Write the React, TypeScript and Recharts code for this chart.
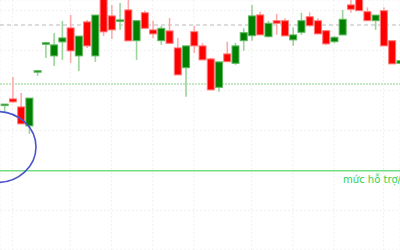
import React from 'react';
import { ComposedChart, Bar, XAxis, YAxis, CartesianGrid, ReferenceLine, ReferenceDot } from 'recharts';

// candle index (trading sessions)
const sessions = [0,1,2,3,4,5,6,7,8,9,10,11,12,13,14,15,16,17,18,19,20,21,22,23,24,25,26,27,28,29,30,31,32,33,34,35,36,37,38,39,40,41,42,43,44,45,46,47,48];
const opens = [72.9,75.9,71.9,62.4,89.6,103.2,97.4,104.4,111.4,97.4,114.4,97.4,127.9,117.4,114.9,120.4,105,119,110.4,105,109.9,101.4,91.5,109.5,102.4,95.9,81.7,98.4,93.7,105,107.5,117.9,107,115,115,105.4,109.2,117,115,110,104.5,107.9,122.9,126.4,119.5,115,120,105,93.7];
const highs = [73.4,86.9,78.9,76.4,90.0,104.4,108.9,114.9,117.9,107.4,115.4,117.9,129.4,122.9,123.9,126.9,115.4,120,115,112.4,116.4,106.4,102.5,112.4,103.9,96.4,94.5,104.5,104,111.2,122.9,119.5,115,118.4,116.2,111.7,119,119.2,116.2,110.1,107.4,120.4,125.4,127.9,121.7,117.9,121.7,105.1,95.1];
const lows = [68.9,73.9,63.3,58.4,87.4,96.4,92.4,95.4,93.9,89.9,101.4,94.4,107.4,105.9,110.4,104.8,95.4,111.1,106.2,102.9,103.6,87.8,77,98.9,95.3,80.3,79.5,94.4,92.9,100,105,107.8,106.7,107.9,107.3,102.4,107.9,112,108.3,102.9,103.7,107.8,119,119.9,114.9,110.4,102.3,93.3,93.6];
const closes = [73.3,74.4,63.4,76.3,90.0,104.0,102.9,106.4,99.9,107.3,102.4,117.8,109.4,110.4,115.4,104.9,115,111.2,108.4,111.2,103.7,87.9,102.4,102.4,95.4,80.4,94.4,94.5,102.4,109,117.4,107.9,113.7,113.7,107.4,107.9,115,112.5,108.4,103.4,106.7,115.7,120.7,120,115,117.8,102.4,93.4,95];

// grid ticks
const gridSessions = [1, 8, 13, 18, 23, 30, 35, 40, 46];
const priceTicks = [10, 20, 30, 40, 50, 60, 70, 80, 90, 100, 110, 120];

// reference levels
const resistanceLevel = 112.85;
const dottedLevel = 83.35;
const supportLevel = 40;
const supportLabel = 'mức hỗ trợ/';
const circleCenter = { session: -0.885, price: 51.85 };

const data = sessions.map((s, k) => ({
  i: s,
  open: opens[k],
  high: highs[k],
  low: lows[k],
  close: closes[k],
  range: [lows[k], highs[k]],
}));

const Candle = (props: any) => {
  const { x, y, width, height, payload } = props;
  if (!payload || height == null) return null;
  const { open, high, low, close } = payload;
  const span = high - low;
  const unit = span > 0 ? height / span : 0;
  const cx = x + width / 2;
  const up = close >= open;
  const top = y + (high - Math.max(open, close)) * unit;
  const bot = y + (high - Math.min(open, close)) * unit;
  const bh = Math.max(bot - top, 1.5);
  const bw = 7;
  const fill = up ? '#008000' : '#ff0000';
  const edge = up ? '#5cb85c' : '#ff7a7a';
  const wick = up ? '#9bd59b' : '#ffaaaa';
  return (
    <g>
      <line x1={cx} x2={cx} y1={y} y2={y + height} stroke={wick} strokeWidth={1.6} />
      <rect x={cx - bw / 2} y={top} width={bw} height={bh} fill={fill} stroke={edge} strokeWidth={1} />
    </g>
  );
};

const SupportLabel = (props: any) => {
  const vb = props.viewBox || {};
  return (
    <text
      x={vb.x + vb.width + 1}
      y={vb.y + 12}
      textAnchor="end"
      fill="#2fcf55"
      fontSize={10}
      fontFamily="DejaVu Sans, sans-serif"
    >
      {supportLabel}
    </text>
  );
};

const Ellipse = (props: any) => (
  <ellipse cx={props.cx} cy={props.cy} rx={39} ry={35.5} fill="none" stroke="#4b55cc" strokeWidth={1.6} />
);

export default function App() {
  return (
    <div style={{ position: 'absolute', left: 0, top: 0, width: 400, height: 250, background: '#fff' }}>
      <ComposedChart width={400} height={250} data={data} margin={{ top: 0, right: 0, bottom: 0, left: 0 }}>
        <CartesianGrid stroke="#f1f1f1" strokeDasharray="2 2" />
        <XAxis type="number" dataKey="i" domain={[-0.52, 48]} allowDataOverflow ticks={gridSessions} hide />
        <YAxis type="number" domain={[0.35, 125.35]} allowDataOverflow ticks={priceTicks} hide />
        <ReferenceLine y={resistanceLevel} stroke="#b8b8b8" strokeDasharray="4 3" strokeWidth={1} zIndex={50} />
        <ReferenceLine y={dottedLevel} stroke="#c6eac6" strokeDasharray="2 1" strokeWidth={2} zIndex={50} />
        <ReferenceLine y={supportLevel} stroke="#72df86" strokeWidth={1.6} label={<SupportLabel />} zIndex={50} />
        <Bar dataKey="range" barSize={7} shape={<Candle />} isAnimationActive={false} />
        <ReferenceDot x={circleCenter.session} y={circleCenter.price} ifOverflow="visible" shape={<Ellipse />} />
      </ComposedChart>
    </div>
  );
}
